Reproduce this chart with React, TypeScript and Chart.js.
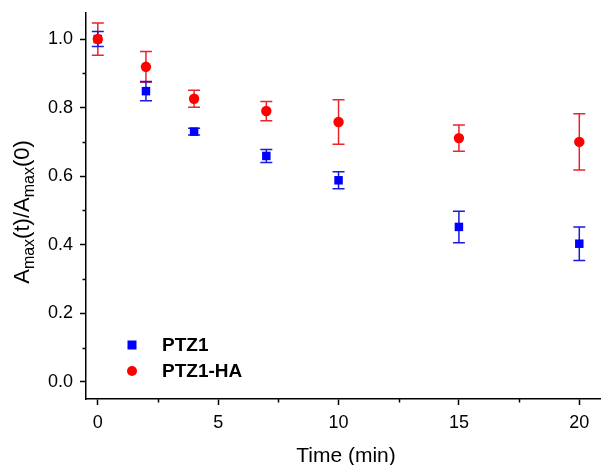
import React, { useEffect, useRef } from "react";
import { Chart, registerables } from "chart.js";

Chart.register(...registerables);

const times = [0, 2, 4, 7, 10, 15, 20];
const ptz1 = [1.0, 0.848, 0.73, 0.659, 0.588, 0.452, 0.403];
const ptz1Err = [0.022, 0.028, 0.01, 0.019, 0.025, 0.046, 0.049];
const ptz1ha = [1.0, 0.919, 0.826, 0.79, 0.758, 0.711, 0.7];
const ptz1haErr = [0.047, 0.045, 0.025, 0.028, 0.065, 0.038, 0.082];
const seriesLabels = ["PTZ1", "PTZ1-HA"];
const xMajorTicks = [0, 5, 10, 15, 20];
const xMinorTicks = [2.5, 7.5, 12.5, 17.5];
const yMajorTicks = [0, 0.2, 0.4, 0.6, 0.8, 1.0];
const yMinorTicks = [0.1, 0.3, 0.5, 0.7, 0.9];
const xTitle = "Time (min)";

const FONT = "'Liberation Sans', Arial, sans-serif";
const BLUE = "#0000ff";
const RED = "#ff0000";
const BLUE_ERR = "#1a1ae0";
const RED_ERR = "#e8262b";

const errs = [ptz1Err, ptz1haErr];
const errColors = [BLUE_ERR, RED_ERR];

const errorBarPlugin = {
  id: "errorBars",
  beforeDatasetsDraw(chart: any) {
    const { ctx } = chart;
    const x = chart.scales.x;
    const y = chart.scales.y;
    [1, 0].forEach((di) => {
      const ds = chart.data.datasets[di];
      ctx.save();
      ctx.strokeStyle = errColors[di];
      ctx.lineWidth = 1.5;
      ds.data.forEach((p: any, i: number) => {
        const px = x.getPixelForValue(p.x);
        const top = y.getPixelForValue(p.y + errs[di][i]);
        const bot = y.getPixelForValue(p.y - errs[di][i]);
        ctx.beginPath();
        ctx.moveTo(px, top);
        ctx.lineTo(px, bot);
        ctx.moveTo(px - 6, top);
        ctx.lineTo(px + 6, top);
        ctx.moveTo(px - 6, bot);
        ctx.lineTo(px + 6, bot);
        ctx.stroke();
      });
      ctx.restore();
    });
  },
};

const decorPlugin = {
  id: "decor",
  afterDraw(chart: any) {
    const { ctx, chartArea } = chart;
    const x = chart.scales.x;
    const y = chart.scales.y;
    ctx.save();
    ctx.strokeStyle = "#000";
    ctx.lineWidth = 1.5;
    // minor ticks
    ctx.beginPath();
    xMinorTicks.forEach((v) => {
      const px = Math.round(x.getPixelForValue(v)) + 0.5;
      ctx.moveTo(px, chartArea.bottom);
      ctx.lineTo(px, chartArea.bottom + 3.5);
    });
    yMinorTicks.forEach((v) => {
      const py = Math.round(y.getPixelForValue(v)) + 0.5;
      ctx.moveTo(chartArea.left, py);
      ctx.lineTo(chartArea.left - 3.5, py);
    });
    ctx.stroke();

    // x title
    ctx.fillStyle = "#000";
    ctx.font = `21px ${FONT}`;
    ctx.textAlign = "center";
    ctx.textBaseline = "alphabetic";
    ctx.fillText(xTitle, 346, 461.5);

    // y title with subscripts
    const mainFont = `22px ${FONT}`;
    const subFont = `16px ${FONT}`;
    const parts: [string, boolean][] = [
      ["A", false],
      ["max", true],
      ["(t)/A", false],
      ["max", true],
      ["(0)", false],
    ];
    let total = 0;
    const widths = parts.map(([t, sub]) => {
      ctx.font = sub ? subFont : mainFont;
      const w = ctx.measureText(t).width;
      total += w;
      return w;
    });
    ctx.save();
    ctx.translate(28.5, 212);
    ctx.rotate(-Math.PI / 2);
    ctx.textAlign = "left";
    let cx = -total / 2;
    parts.forEach(([t, sub], i) => {
      ctx.font = sub ? subFont : mainFont;
      ctx.fillText(t, cx, sub ? 5 : 0);
      cx += widths[i];
    });
    ctx.restore();

    // legend
    const lx = 132;
    const ly = [345, 371];
    ctx.fillStyle = BLUE;
    ctx.fillRect(lx - 4.5, ly[0] - 4.5, 9, 9);
    ctx.fillStyle = RED;
    ctx.beginPath();
    ctx.arc(lx, ly[1], 5, 0, Math.PI * 2);
    ctx.fill();
    ctx.fillStyle = "#000";
    ctx.font = `bold 19px ${FONT}`;
    ctx.textAlign = "left";
    ctx.textBaseline = "middle";
    seriesLabels.forEach((lab, i) => {
      ctx.fillText(lab, 162, ly[i] + 1);
    });
    ctx.restore();
  },
};

export default function App() {
  const ref = useRef<HTMLCanvasElement>(null);
  useEffect(() => {
    document.body.style.margin = "0";
    const canvas = ref.current;
    if (!canvas) return;
    const chart = new Chart(canvas, {
      type: "scatter",
      data: {
        datasets: [
          {
            label: seriesLabels[0],
            data: times.map((t, i) => ({ x: t, y: ptz1[i] })),
            pointStyle: "rect",
            pointRadius: 6,
            pointBackgroundColor: BLUE,
            pointBorderWidth: 0,
            borderWidth: 0,
            showLine: false,
            order: 1,
            clip: false,
          },
          {
            label: seriesLabels[1],
            data: times.map((t, i) => ({ x: t, y: ptz1ha[i] })),
            pointStyle: "circle",
            pointRadius: 5.2,
            pointBackgroundColor: RED,
            pointBorderWidth: 0,
            borderWidth: 0,
            showLine: false,
            order: 0,
            clip: false,
          },
        ],
      },
      options: {
        responsive: false,
        animation: false,
        layout: {
          autoPadding: false,
          padding: { top: 13, right: 1, left: 0, bottom: 0 },
        },
        plugins: { legend: { display: false }, tooltip: { enabled: false } },
        scales: {
          x: {
            type: "linear",
            min: -0.49,
            max: 20.86,
            afterBuildTicks: (s: any) => {
              s.ticks = xMajorTicks.map((v) => ({ value: v }));
            },
            afterFit: (s: any) => {
              s.height = 66;
              s.paddingLeft = 0;
              s.paddingRight = 0;
            },
            ticks: {
              color: "#000",
              font: { family: FONT, size: 18 },
              padding: 7,
              maxRotation: 0,
              callback: (v: any) => String(v),
            },
            grid: {
              drawOnChartArea: false,
              drawTicks: true,
              tickLength: 6,
              tickColor: "#000",
              tickWidth: 1.5,
            },
            border: { display: true, color: "#000", width: 1.5 },
          },
          y: {
            type: "linear",
            min: -0.05,
            max: 1.076,
            afterBuildTicks: (s: any) => {
              s.ticks = yMajorTicks.map((v) => ({ value: v }));
            },
            afterFit: (s: any) => {
              s.width = 86;
              s.paddingTop = 0;
              s.paddingBottom = 0;
            },
            ticks: {
              color: "#000",
              font: { family: FONT, size: 18 },
              padding: 7,
              callback: (v: any) => Number(v).toFixed(1),
            },
            grid: {
              drawOnChartArea: false,
              drawTicks: true,
              tickLength: 6,
              tickColor: "#000",
              tickWidth: 1.5,
            },
            border: { display: true, color: "#000", width: 1.5 },
          },
        },
      },
      plugins: [errorBarPlugin, decorPlugin],
    } as any);
    return () => chart.destroy();
  }, []);
  return (
    <canvas
      ref={ref}
      width={601}
      height={465}
      style={{ display: "block", width: 601, height: 465 }}
    />
  );
}
